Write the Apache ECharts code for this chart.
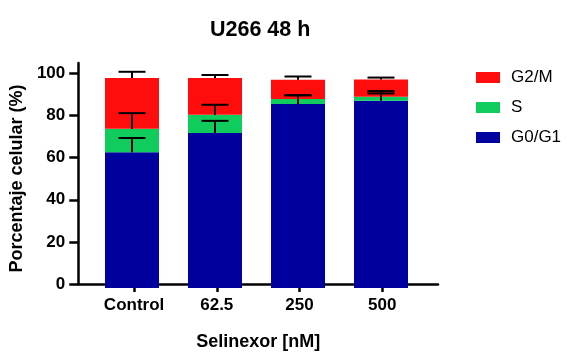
<!DOCTYPE html>
<html><head><meta charset="utf-8">
<script src="https://cdn.jsdelivr.net/npm/echarts@6/dist/echarts.min.js"></script>
<style>html,body{margin:0;padding:0;background:#fff}#c{width:567px;height:356px}</style>
</head><body><div id="c"></div>
<script>
var categories = ['Control', '62.5', '250', '500'];
var g0g1 = [63.4, 72.3, 85.9, 87.4];
var sPhase = [10.9, 8.5, 2.3, 1.8];
var g2m = [23.7, 17.2, 9.0, 8.1];
var g0g1Err = [6.6, 5.7, 4.1, 4.5];
var sErr = [7.3, 4.7, 1.7, 1.6];
var g2mErr = [2.9, 1.4, 1.5, 0.9];
var yTicks = [0, 20, 40, 60, 80, 100];

var FONT = "'Liberation Sans', Arial, sans-serif";
var xIdx = categories.map(function (c, i) { return i; });
var errData = [];
categories.forEach(function (c, i) {
  var b1 = g0g1[i], b2 = b1 + sPhase[i], b3 = b2 + g2m[i];
  errData.push([i, b1, b1 + g0g1Err[i]]);
  errData.push([i, b2, b2 + sErr[i]]);
  errData.push([i, b3, b3 + g2mErr[i]]);
});

var chart = echarts.init(document.getElementById('c'));
chart.setOption({
  animation: false,
  title: {
    text: 'U266 48 h', left: 205, top: 14,
    textStyle: { fontFamily: FONT, fontSize: 21.5, fontWeight: 'bold', color: '#000' }
  },
  legend: {
    orient: 'vertical', left: 471, top: 64, itemWidth: 24, itemHeight: 11, itemGap: 13,
    icon: 'rect',
    data: ['G2/M', 'S', 'G0/G1'],
    textStyle: { fontFamily: FONT, fontSize: 17, color: '#000', padding: [0, 0, 0, 6] }
  },
  grid: [
    { left: 77, right: 129, top: 63, bottom: 68 },
    { left: 90.5, right: 144.5, top: 63, bottom: 68 }
  ],
  xAxis: [{
    type: 'value', min: -0.675, max: 3.675, gridIndex: 0,
    name: 'Selinexor [nM]', nameLocation: 'middle', nameGap: 49,
    nameTextStyle: { fontFamily: FONT, fontSize: 18, fontWeight: 'bold', color: '#000' },
    axisLine: { show: true, onZero: false, lineStyle: { color: '#000', width: 2.5 } },
    axisTick: { show: true, length: 8, lineStyle: { color: '#000', width: 2.5 }, customValues: xIdx },
    axisLabel: {
      margin: 13, fontFamily: FONT, fontSize: 17, fontWeight: 'bold', color: '#000',
      customValues: xIdx,
      formatter: function (v) { return categories[Math.round(v)]; }
    },
    splitLine: { show: false }
  }, {
    type: 'category', gridIndex: 1, data: categories, boundaryGap: true,
    axisLine: { show: false }, axisTick: { show: false }, axisLabel: { show: false }, splitLine: { show: false }
  }],
  yAxis: [{
    type: 'value', min: 0, max: 105, gridIndex: 0,
    name: 'Porcentaje celular (%)', nameLocation: 'middle', nameGap: 36, nameRotate: 90,
    nameTextStyle: { fontFamily: FONT, fontSize: 18, fontWeight: 'bold', color: '#000', padding: [0, 10, 0, 0] },
    axisLine: { show: true, onZero: false, lineStyle: { color: '#000', width: 2.5 } },
    axisTick: { show: true, length: 9, lineStyle: { color: '#000', width: 2.5 }, customValues: yTicks },
    axisLabel: { margin: 13, fontFamily: FONT, fontSize: 17, fontWeight: 'bold', color: '#000', customValues: yTicks },
    splitLine: { show: false }
  }, {
    type: 'value', min: 0, max: 105, gridIndex: 1,
    axisLine: { show: false }, axisTick: { show: false }, axisLabel: { show: false }, splitLine: { show: false }
  }],
  series: [
    { name: 'G0/G1', type: 'bar', stack: 'a', barWidth: 54, xAxisIndex: 1, yAxisIndex: 1, data: g0g1,
      itemStyle: { color: '#00009E' } },
    { name: 'S', type: 'bar', stack: 'a', barWidth: 54, xAxisIndex: 1, yAxisIndex: 1, data: sPhase,
      itemStyle: { color: '#10CC5C' } },
    { name: 'G2/M', type: 'bar', stack: 'a', barWidth: 54, xAxisIndex: 1, yAxisIndex: 1, data: g2m,
      itemStyle: { color: '#FF0D0D' } },
    { type: 'custom', z: 10, xAxisIndex: 1, yAxisIndex: 1, data: errData,
      renderItem: function (params, api) {
        var x = api.value(0);
        var p0 = api.coord([x, api.value(1)]);
        var p1 = api.coord([x, api.value(2)]);
        var hw = 13.5;
        return { type: 'group', children: [
          { type: 'line', shape: { x1: p0[0], y1: p0[1], x2: p1[0], y2: p1[1] }, style: { stroke: '#000', lineWidth: 2 } },
          { type: 'line', shape: { x1: p1[0] - hw, y1: p1[1], x2: p1[0] + hw, y2: p1[1] }, style: { stroke: '#000', lineWidth: 2 } }
        ]};
      }
    }
  ]
});
</script></body></html>
